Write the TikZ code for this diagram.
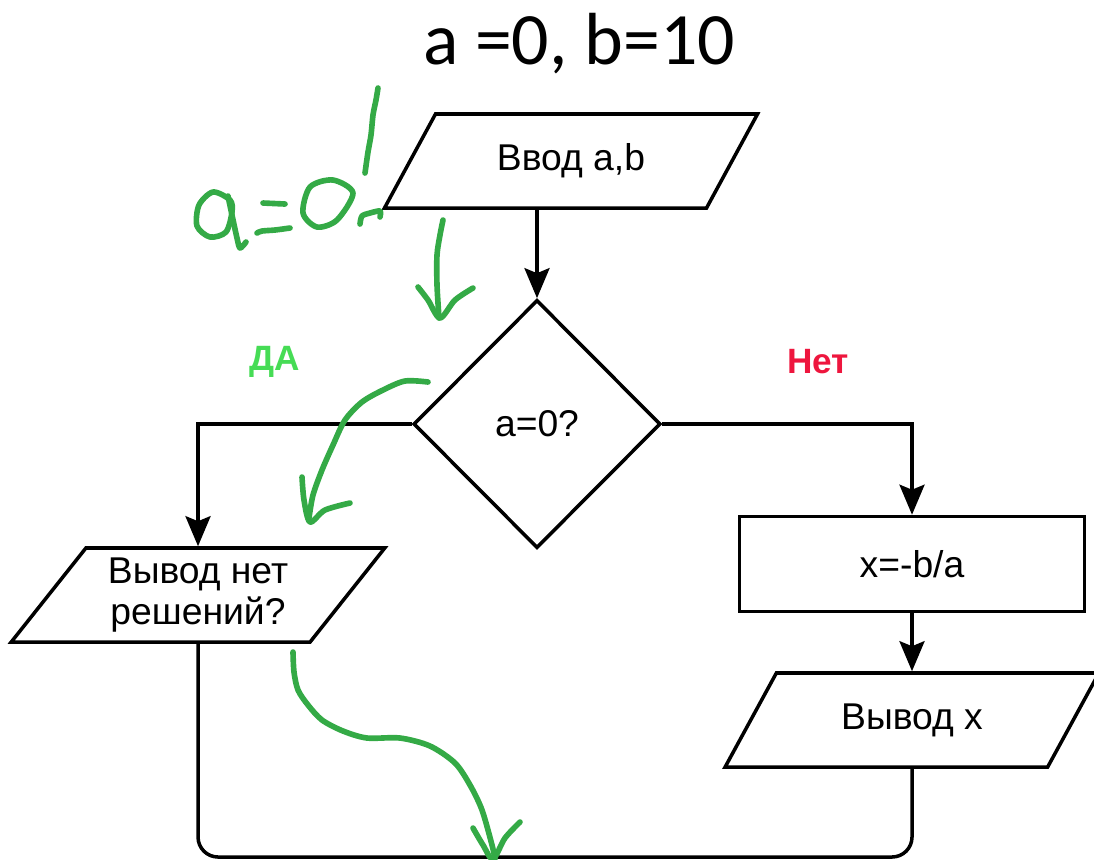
\documentclass[tikz,border=0pt]{standalone}
\usepackage{fontspec}
\setmainfont{Liberation Sans}
\newfontfamily\headfont{Carlito}
\usetikzlibrary{shapes.geometric,arrows.meta}

\definecolor{inkgreen}{RGB}{52,170,70}
\definecolor{yesgreen}{RGB}{70,220,85}
\definecolor{nored}{RGB}{238,22,62}

\tikzset{
  line/.style={line width=1pt},
  arr/.style={line, -{Stealth[length=0.3cm,width=0.25cm,inset=0.05cm]}},
  block/.style={draw, line, font=\fontsize{10.6}{11.6}\selectfont, align=center},
  io/.style={block, trapezium, trapezium left angle=51, trapezium right angle=129,
    trapezium stretches=true, minimum width=3.74cm, minimum height=0.94cm, inner sep=0pt},
  cond/.style={block, diamond, minimum width=2.47cm, minimum height=2.48cm, inner sep=0pt},
  proc/.style={block, rectangle, minimum width=3.45cm, minimum height=0.95cm},
  branch/.style={font=\bfseries\fontsize{10}{12}\selectfont},
  ink/.style={draw=inkgreen, line width=1.6pt, line cap=round, line join=round}
}

\begin{document}
\begin{tikzpicture}[x=0.01cm, y=-0.01cm]
  \useasboundingbox (0,0) rectangle (1094,859);

  \node[font=\headfont\fontsize{21}{24}\selectfont] (head) at (579,44) {a =0, b=10};

  % flowchart
  \node[io] (inp) at (571,161) {Ввод a,b};
  \node[cond] (dec) at (537,424) {a=0?};
  \node[io] (none) at (198,595) {Вывод нет\\решений?};
  \node[proc] (calc) at (912,564) {x=-b/a};
  \node[io] (res) at (912,720) {Вывод x};
  \node[branch, text=yesgreen] (yes) at (275,362) {ДА};
  \node[branch, text=nored] (no) at (818,362) {Нет};

  \draw[arr] (inp.south -| dec.north) -- (dec.north);
  \draw[arr] (dec.west) -| (none.north);
  \draw[arr] (dec.east) -| (calc.north);
  \draw[arr] (calc.south) -- (calc.south |- res.north);
  \coordinate (join) at (555,857);
  \draw[line, rounded corners=0.2cm] (none.south) |- (join) -| (res.south);

  % pen notes: a=0!
  \draw[ink] plot[smooth cycle] coordinates {(230,200) (213,192) (199,205) (197,226) (210,237) (226,232) (232,212)};
  \draw[ink] plot[smooth] coordinates {(228,196) (232,215) (237,238) (240,248) (246,242)};
  \draw[ink] (263,203) -- (285,204);
  \draw[ink] plot[smooth] coordinates {(257,233) (262,231) (275,230) (290,228)};
  \draw[ink] plot[smooth cycle] coordinates {(333,180) (353,193) (337,220) (317,227) (303,213) (310,187)};
  \draw[ink] plot[smooth] coordinates {(378,88) (376,100) (373,115) (371,135) (368,152) (365,173)};
  \draw[ink] plot[smooth] coordinates {(360,224) (362,216) (370,213) (380,211) (380,217)};

  % pen arrows
  \draw[ink] plot[smooth] coordinates {(443,220) (440,235) (437,255) (437,285) (439,318)};
  \draw[ink] plot[smooth] coordinates {(418,287) (428,300) (440,318) (455,300) (473,288)};
  \draw[ink] plot[smooth] coordinates {(428,382) (405,381) (383,390) (362,402) (345,420) (333,445) (322,470) (313,495) (309,518)};
  \draw[ink] plot[smooth] coordinates {(302,477) (304,500) (310,522) (325,510) (350,503)};
  \draw[ink] plot[smooth] coordinates {(293,652) (294,672) (298,690) (308,705) (322,720) (343,731) (367,738) (400,738) (430,746) (455,763) (470,785) (482,810) (492,845) (495,859)};
  \draw[ink] plot[smooth] coordinates {(473,828) (483,845) (493,859) (505,838) (520,822)};
\end{tikzpicture}
\end{document}
